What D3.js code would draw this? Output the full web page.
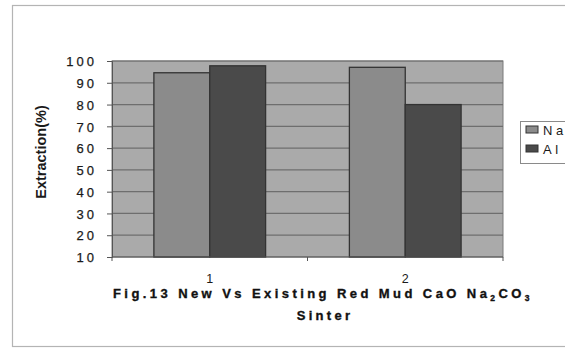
<!DOCTYPE html>
<html>
<head>
<meta charset="utf-8">
<script src="https://cdn.jsdelivr.net/npm/d3@7"></script>
<style>
  html, body { margin: 0; padding: 0; background: #fff; }
  svg { display: block; font-family: "Liberation Sans", Arial, sans-serif; }
</style>
</head>
<body>
<svg id="chart" width="565" height="349"></svg>
<script>
// Chart data
const categories = ["1", "2"];
const seriesNames = ["Na", "Al"];
const naValues = [94.6, 97.1];
const alValues = [97.8, 80];
const yTicks = [10, 20, 30, 40, 50, 60, 70, 80, 90, 100];

const seriesValues = [naValues, alValues];
const seriesColors = ["#8b8b8b", "#4a4a4a"];

const svg = d3.select("#chart");

// Outer frame
svg.append("rect")
  .attr("x", 12.5).attr("y", 5.5)
  .attr("width", 600).attr("height", 341)
  .attr("fill", "none").attr("stroke", "#b4b4b4").attr("stroke-width", 1.2);

const plot = { left: 112, right: 503, top: 61, bottom: 257 };

const y = d3.scaleLinear().domain([10, 100]).range([plot.bottom, plot.top]);
const x0 = d3.scaleBand().domain(categories).range([plot.left, plot.right]).padding(0);
const x1 = d3.scaleBand().domain(seriesNames).range([0, x0.bandwidth()])
  .paddingInner(0).paddingOuter(0.75);

// Plot background
svg.append("rect")
  .attr("x", plot.left).attr("y", plot.top)
  .attr("width", plot.right - plot.left).attr("height", plot.bottom - plot.top)
  .attr("fill", "#aaaaaa").attr("stroke", "#7a7a7a").attr("stroke-width", 1);

// Horizontal gridlines
svg.append("g")
  .selectAll("line")
  .data(yTicks.filter(t => t > 10))
  .join("line")
  .attr("x1", plot.left).attr("x2", plot.right)
  .attr("y1", d => y(d)).attr("y2", d => y(d))
  .attr("stroke", "#6e6e6e").attr("stroke-width", 1.2);

// Bars
const groups = svg.append("g")
  .selectAll("g")
  .data(categories)
  .join("g")
  .attr("transform", d => `translate(${x0(d)},0)`);

groups.selectAll("rect")
  .data((d, i) => seriesNames.map((s, j) => ({ s, j, v: seriesValues[j][i] })))
  .join("rect")
  .attr("x", d => x1(d.s))
  .attr("y", d => y(d.v))
  .attr("width", x1.bandwidth())
  .attr("height", d => y(10) - y(d.v))
  .attr("fill", d => seriesColors[d.j])
  .attr("stroke", "#333")
  .attr("stroke-width", 1.3);

// Y axis
const yAxis = d3.axisLeft(y).tickValues(yTicks).tickSize(5).tickPadding(10).tickFormat(d3.format("d"));
const gy = svg.append("g").attr("transform", `translate(${plot.left},0)`).call(yAxis);
gy.select(".domain").attr("stroke", "#555");
gy.selectAll(".tick line").attr("stroke", "#555");
gy.selectAll(".tick text")
  .attr("fill", "#1a1a1a")
  .attr("stroke", "#1a1a1a").attr("stroke-width", 0.25)
  .style("font-size", "13px")
  .style("letter-spacing", "3px")
  .attr("dy", "0.36em");

// X axis (ticks at category boundaries)
const gx = svg.append("g").attr("transform", `translate(0,${plot.bottom})`);
gx.append("line")
  .attr("x1", plot.left).attr("x2", plot.right)
  .attr("stroke", "#555");
gx.selectAll("line.tk")
  .data([plot.left, x0("2"), plot.right])
  .join("line").attr("class", "tk")
  .attr("x1", d => d).attr("x2", d => d)
  .attr("y1", 0).attr("y2", 4)
  .attr("stroke", "#555");
gx.selectAll("text")
  .data(categories)
  .join("text")
  .attr("x", d => x0(d) + x0.bandwidth() / 2)
  .attr("y", 25.5)
  .attr("text-anchor", "middle")
  .attr("fill", "#1a1a1a")
  .style("font-size", "12.5px")
  .text(d => d);

// Y axis title
svg.append("text")
  .attr("transform", "translate(46,152) rotate(-90)")
  .attr("text-anchor", "middle")
  .attr("fill", "#1a1a1a")
  .style("font-size", "14.5px")
  .style("font-weight", "bold")
  .text("Extraction(%)");

// Caption
const cap1 = svg.append("text")
  .attr("x", 323).attr("y", 298)
  .attr("text-anchor", "middle")
  .attr("fill", "#111")
  .attr("stroke", "#111").attr("stroke-width", 0.35)
  .style("font-size", "13px")
  .style("font-weight", "bold");
cap1.append("tspan").text("Fig.13 New Vs Existing Red Mud CaO Na");
cap1.append("tspan").attr("dy", 3).style("font-size", "8.5px").text("2");
cap1.append("tspan").attr("dy", -3).text("CO");
cap1.append("tspan").attr("dy", 3).style("font-size", "8.5px").text("3");

// stretch caption to its printed width by letter spacing
{
  const target = 420;
  const n = cap1.text().length;
  const w = cap1.node().getComputedTextLength();
  cap1.style("letter-spacing", ((target - w) / n) + "px");
}

svg.append("text")
  .attr("x", 325).attr("y", 320)
  .attr("text-anchor", "middle")
  .attr("fill", "#111")
  .attr("stroke", "#111").attr("stroke-width", 0.35)
  .style("font-size", "13px")
  .style("font-weight", "bold")
  .style("letter-spacing", "3.3px")
  .text("Sinter");

// Legend
const legend = svg.append("g");
legend.append("rect")
  .attr("x", 520.5).attr("y", 121.5)
  .attr("width", 80).attr("height", 42)
  .attr("fill", "#fff").attr("stroke", "#8a8a8a");
const li = legend.selectAll("g.item")
  .data(seriesNames)
  .join("g").attr("class", "item")
  .attr("transform", (d, i) => `translate(526,${126 + i * 19})`);
li.append("rect")
  .attr("width", 12).attr("height", 7)
  .attr("fill", (d, i) => seriesColors[i])
  .attr("stroke", "#333").attr("stroke-width", 1);
const lt = li.append("text")
  .attr("x", 17).attr("y", 8.5)
  .attr("fill", "#1a1a1a")
  .style("font-size", "13px");
lt.append("tspan").text(d => d[0]);
lt.append("tspan").attr("dx", 3.5).text(d => d.slice(1));
</script>
</body>
</html>
